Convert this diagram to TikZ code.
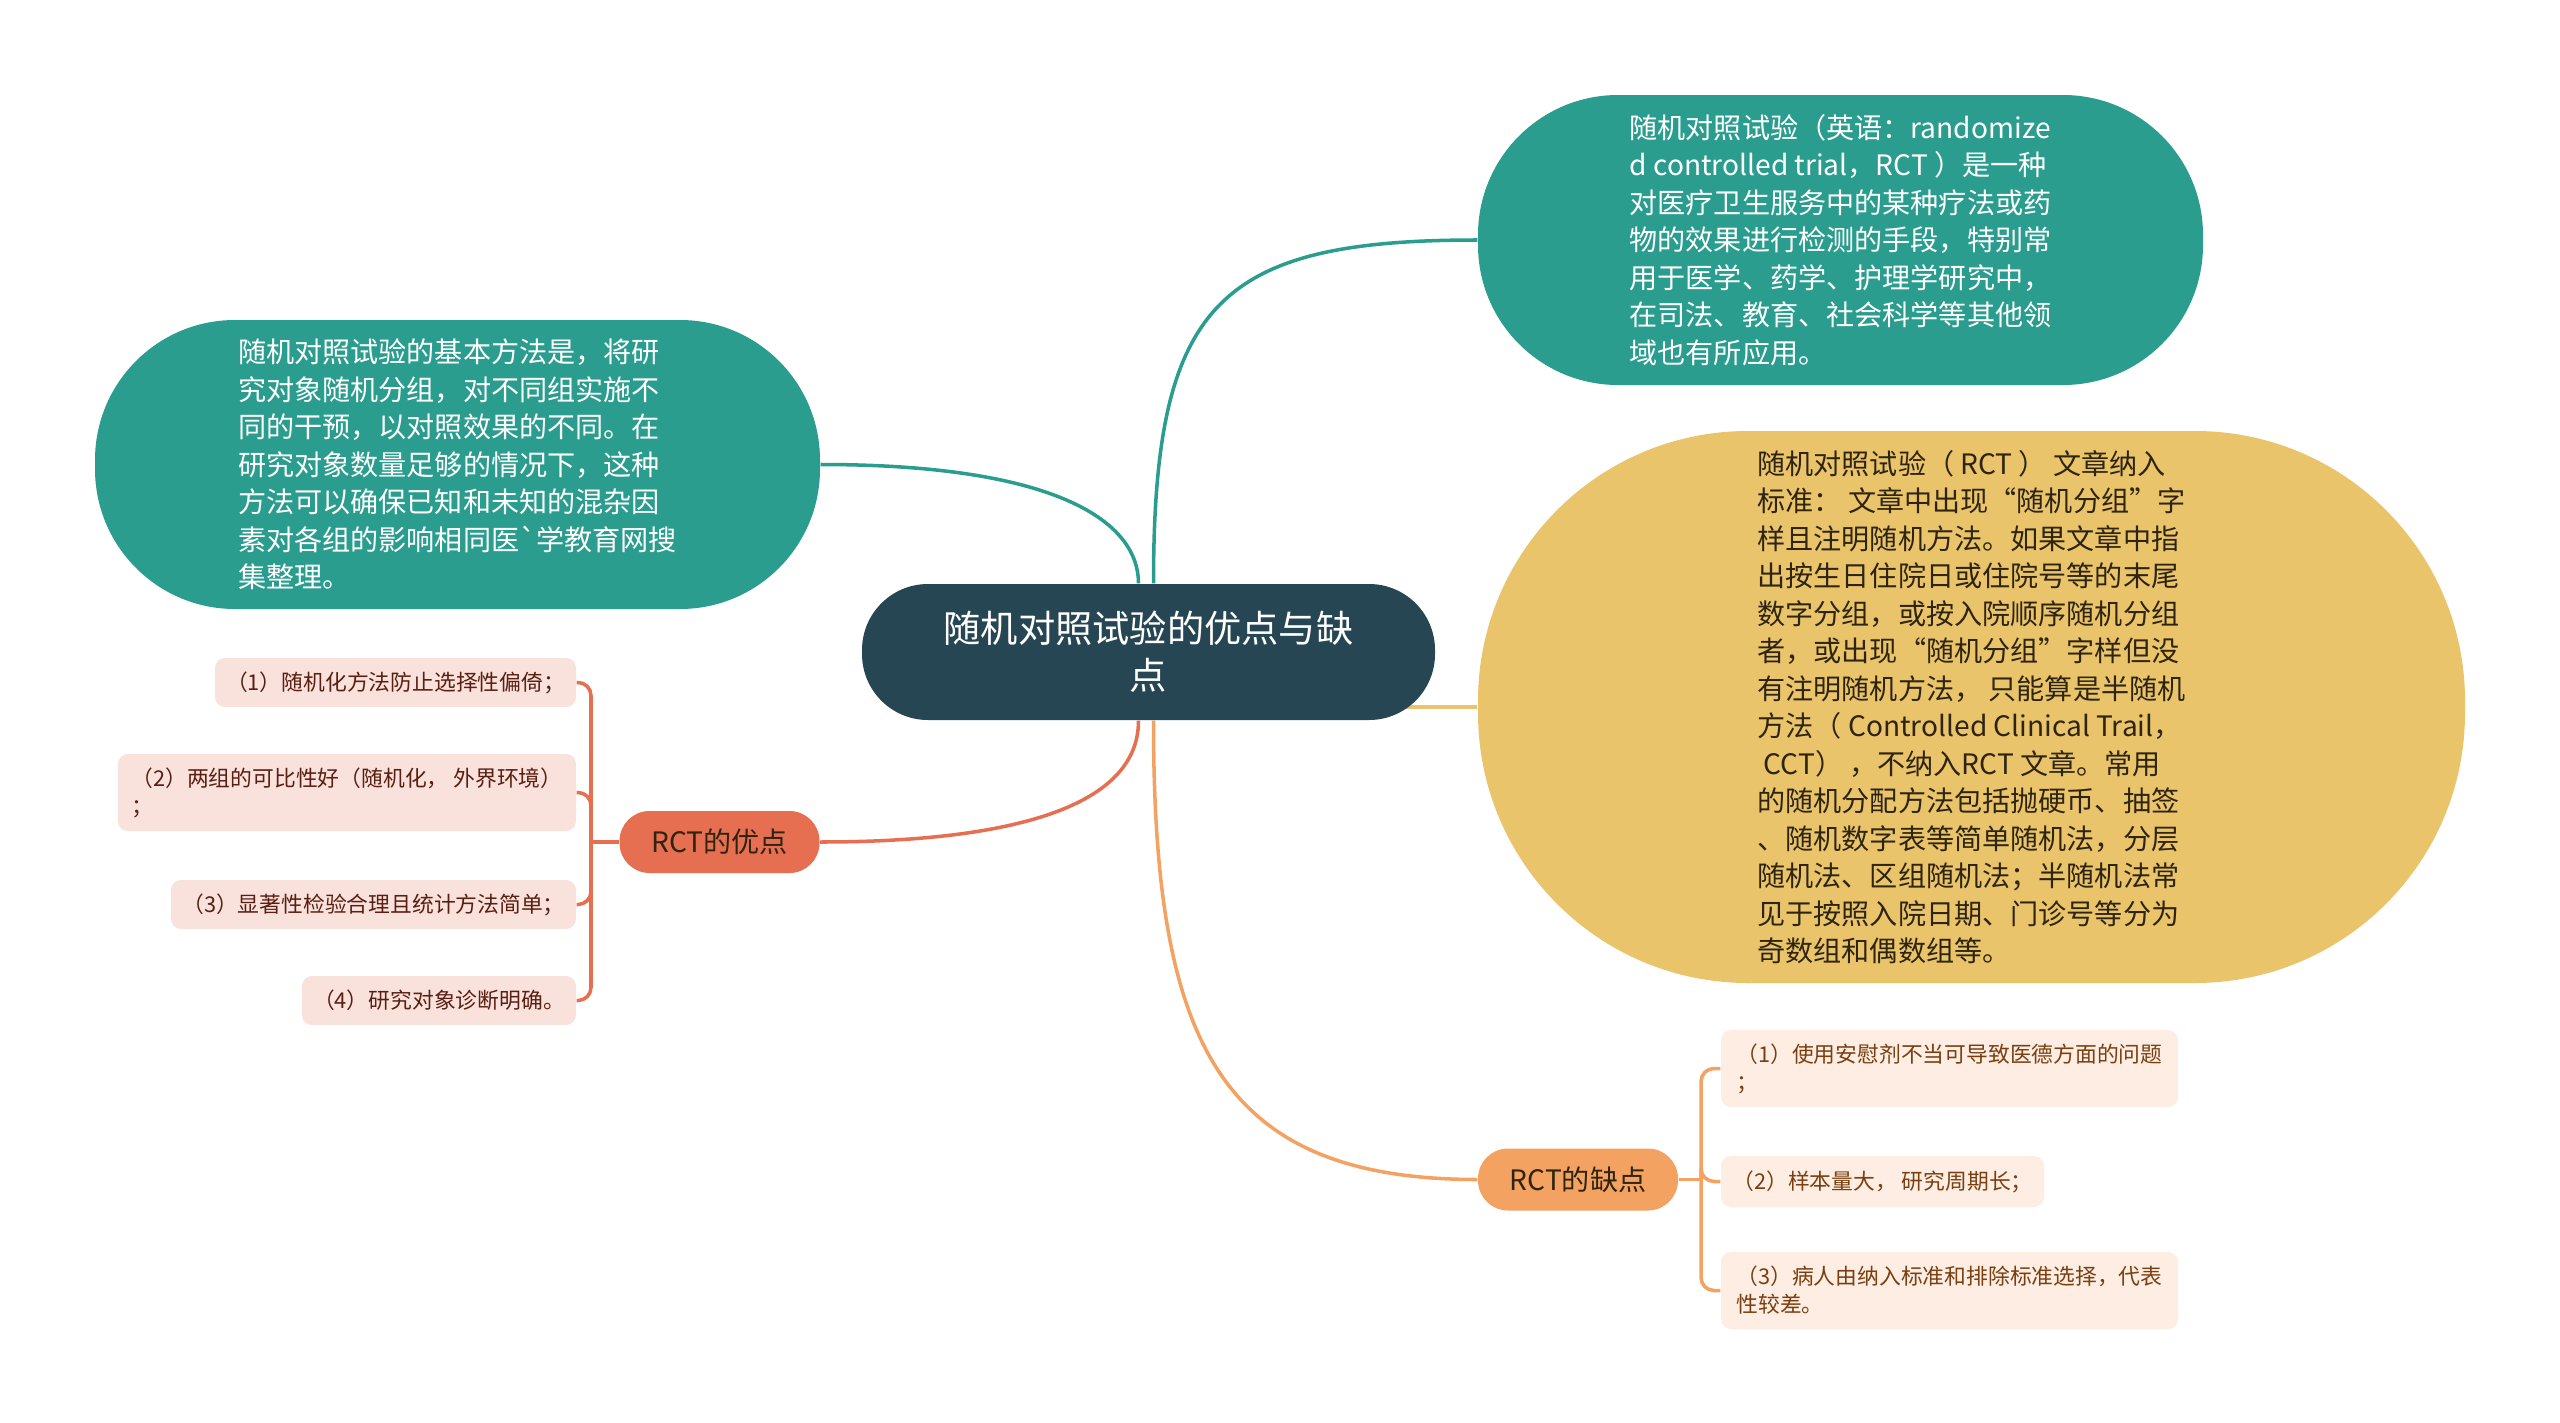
\documentclass[tikz,border=0pt]{standalone}
\usepackage{fontspec}
\setmainfont{Noto Sans CJK SC}
\usetikzlibrary{backgrounds}

\definecolor{rootfill}{HTML}{264653}
\definecolor{tealfill}{HTML}{2A9D8F}
\definecolor{sandfill}{HTML}{E9C46A}
\definecolor{profill}{HTML}{E76F51}
\definecolor{confill}{HTML}{F4A261}
\definecolor{prolight}{HTML}{F9E2DC}
\definecolor{conlight}{HTML}{FDEDE2}
\definecolor{protext}{HTML}{5A1E12}
\definecolor{context}{HTML}{7A3F10}
\definecolor{darktext}{HTML}{2E2410}

\tikzset{
  bubble/.style={draw=none, align=left, inner sep=0pt},
  topicbox/.style={bubble, fill=rootfill, text=white, align=center,
    font=\fontsize{10.6pt}{13.4pt}\selectfont},
  notebox/.style={bubble, font=\fontsize{8pt}{10.67pt}\selectfont},
  branchbox/.style={bubble, text=darktext, align=center,
    font=\fontsize{8pt}{10pt}\selectfont, minimum width=2cm, minimum height=0.62cm,
    rounded corners=0.3cm},
  leafbox/.style={bubble, rounded corners=0.1cm,
    font=\fontsize{6.2pt}{7.97pt}\selectfont},
  link/.style={line width=1pt}
}

\begin{document}
\begin{tikzpicture}
			%%%%% START %%%%%
			\useasboundingbox (0, 0) rectangle (25.6, -14.23);

			\node[topicbox, minimum width=5.73cm, minimum height=1.36cm, rounded corners=0.66cm] (root) at (11.485, -6.52) {随机对照试验的优点与缺\\点};

			\node[notebox, fill=tealfill, text=white, minimum width=7.25cm, minimum height=2.9cm, rounded corners=1.4cm] (intro) at (18.405, -2.4) {随机对照试验（英语：randomize\\d controlled trial，RCT ）是一种\\对医疗卫生服务中的某种疗法或药\\物的效果进行检测的手段，特别常\\用于医学、药学、护理学研究中，\\在司法、教育、社会科学等其他领\\域也有所应用。};

			\node[notebox, fill=tealfill, text=white, minimum width=7.25cm, minimum height=2.89cm, rounded corners=1.4cm] (method) at (4.575, -4.645) {随机对照试验的基本方法是，将研\\究对象随机分组，对不同组实施不\\同的干预，以对照效果的不同。在\\研究对象数量足够的情况下，这种\\方法可以确保已知和未知的混杂因\\素对各组的影响相同医\textasciigrave 学教育网搜\\集整理。};

			\node[notebox, fill=sandfill, text=darktext, minimum width=9.87cm, minimum height=5.52cm, rounded corners=2.7cm] (criteria) at (19.715, -7.07) {随机对照试验（ RCT ） 文章纳入\\标准： 文章中出现“随机分组”字\\样且注明随机方法。如果文章中指\\出按生日住院日或住院号等的末尾\\数字分组，或按入院顺序随机分组\\者，或出现“随机分组”字样但没\\有注明随机方法， 只能算是半随机\\方法（ Controlled Clinical Trail，\\\ CCT） ，不纳入RCT 文章。常用\\的随机分配方法包括抛硬币、抽签\\、随机数字表等简单随机法，分层\\随机法、区组随机法；半随机法常\\见于按照入院日期、门诊号等分为\\奇数组和偶数组等。};

			\node[branchbox, fill=profill] (pros) at (7.195, -8.42) {RCT的优点};
			\node[branchbox, fill=confill] (cons) at (15.78, -11.795) {RCT的缺点};

			% pros leaves
			\node[leafbox, fill=prolight, text=protext, minimum width=3.61cm, minimum height=0.49cm] (pro1) at (3.955, -6.825) {（1）随机化方法防止选择性偏倚；};
			\node[leafbox, fill=prolight, text=protext, minimum width=4.58cm, minimum height=0.77cm] (pro2) at (3.47, -7.925) {（2）两组的可比性好（随机化， 外界环境）\\；};
			\node[leafbox, fill=prolight, text=protext, minimum width=4.05cm, minimum height=0.49cm] (pro3) at (3.735, -9.045) {（3）显著性检验合理且统计方法简单；};
			\node[leafbox, fill=prolight, text=protext, minimum width=2.74cm, minimum height=0.49cm] (pro4) at (4.39, -10.005) {（4）研究对象诊断明确。};

			% cons leaves
			\node[leafbox, fill=conlight, text=context, minimum width=4.57cm, minimum height=0.77cm] (con1) at (19.495, -10.685) {（1）使用安慰剂不当可导致医德方面的问题\\；};
			\node[leafbox, fill=conlight, text=context, minimum width=3.23cm, minimum height=0.51cm] (con2) at (18.825, -11.815) {（2）样本量大， 研究周期长；};
			\node[leafbox, fill=conlight, text=context, minimum width=4.57cm, minimum height=0.77cm] (con3) at (19.495, -12.905) {（3）病人由纳入标准和排除标准选择，代表\\性较差。};

			\coordinate (projoint) at (5.91, -8.42);
			\coordinate (conjoint) at (17.01, -11.795);

			\begin{scope}[on background layer]
			\fill[white] (0, 0) rectangle (25.6, -14.23);

			\draw[link, color=tealfill] (method.east) .. controls +(2.4, 0) and +(0, 0.6) .. ([xshift=-0.1cm]root.north);
			\draw[link, color=tealfill] ([xshift=0.05cm]root.north) .. controls +(0, 2.8) and +(-2.6, 0) .. (intro.west);
			\draw[link, color=sandfill] (root.center |- criteria.west) -- (criteria.west);
			\draw[link, color=profill] ([xshift=-0.1cm]root.south) .. controls +(0, -0.9) and +(1.8, 0) .. (pros.east);
			\draw[link, color=confill] ([xshift=0.05cm]root.south) .. controls +(0, -3.2) and +(-2.6, 0) .. (cons.west);

			\draw[link, color=profill] (pros.west) -- (projoint);
			\foreach \leaf in {pro1, pro2, pro3, pro4}
				\draw[link, color=profill, rounded corners=0.13cm] (projoint) |- (\leaf.east);

			\draw[link, color=confill] (cons.east) -- (conjoint);
			\foreach \leaf in {con1, con2, con3}
				\draw[link, color=confill, rounded corners=0.13cm] (conjoint) |- (\leaf.west);
			\end{scope}
			%%%%% END %%%%%
\end{tikzpicture}
\end{document}
